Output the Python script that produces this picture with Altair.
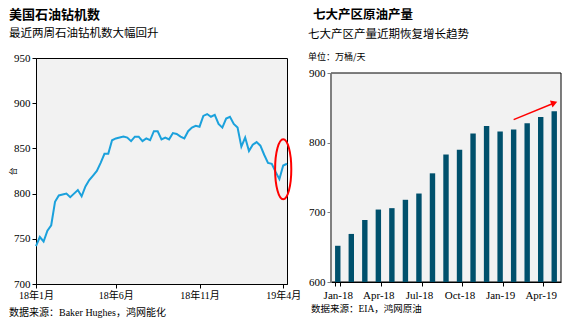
import altair as alt
import pandas as pd

CJK = "Noto Sans CJK SC"
MIX = "Liberation Serif, Noto Sans CJK SC"

# ---------------- left chart data: US oil rig count (weekly) ----------------
rig_weeks = [d.strftime("%Y-%m-%d") for d in pd.date_range("2018-01-05", periods=67, freq="7D")]
rig_counts = [742, 752, 747, 759, 765, 791, 798, 799, 800, 796, 800, 804, 797, 808, 815, 820, 825, 834, 844, 844, 859,
              861, 862, 863, 862, 858, 863, 863, 858, 861, 859, 869, 869, 860, 862, 860, 867, 866, 863, 861, 869,
              873, 875, 874, 886, 888, 885, 887, 877, 873, 883, 885,
              877, 873, 852, 862, 847, 854, 857, 853, 843, 834, 833, 824, 816, 831, 833]
rig_tick_dates = ["2018-01-05", "2018-06-01", "2018-11-02", "2019-04-05"]
rig_tick_labels = ["18年1月", "18年6月", "18年11月", "19年4月"]
rig_y_ticks = [700, 750, 800, 850, 900, 950]
ellipse_week = ["2019-04-05"]
ellipse_value = [827]

left_title = "美国石油钻机数"
left_subtitle = "最近两周石油钻机数大幅回升"
left_unit = "台"
left_source = "数据来源：Baker Hughes，鸿网能化"

# ---------------- right chart data: 7 regions crude output ----------------
prod_months = ["Jan-18", "Feb-18", "Mar-18", "Apr-18", "May-18", "Jun-18", "Jul-18", "Aug-18", "Sep-18",
               "Oct-18", "Nov-18", "Dec-18", "Jan-19", "Feb-19", "Mar-19", "Apr-19", "May-19"]
prod_values = [652, 669, 689, 704, 706, 718, 727, 756, 783, 790, 813, 824, 816, 819, 828, 837, 845]
prod_tick_months = ["Jan-18", "Apr-18", "Jul-18", "Oct-18", "Jan-19", "Apr-19"]
prod_y_ticks = [600, 700, 800, 900]
arrow_from = ["Feb-19", 833]
arrow_to = ["May-19", 857]

right_title = "七大产区原油产量"
right_subtitle = "七大产区产量近期恢复增长趋势"
right_unit = "单位：万桶/天"
right_source = "数据来源：EIA，鸿网原油"


def txt(s, x, y, size, bold=False, font=MIX):
    return alt.Chart(alt.Data(values=[{"t": s}])).mark_text(
        align="left", baseline="middle", fontSize=size,
        fontWeight="bold" if bold else "normal", font=font, color="black"
    ).encode(x=alt.value(x), y=alt.value(y), text="t:N")


# ---------------- left chart ----------------
rig_df = pd.DataFrame({"week": rig_weeks, "rigs": rig_counts})
label_expr = " : ".join(
    f"datum.value == '{d}' ? '{l}'" for d, l in zip(rig_tick_dates, rig_tick_labels)
) + " : ''"

lx = alt.X("week:O", scale=alt.Scale(type="point", padding=0),
           axis=alt.Axis(values=rig_tick_dates, labelExpr=label_expr, title=None, tickSize=4,
                         labelAngle=0, labelFontSize=10, labelFont=MIX, labelColor="black",
                         domainColor="black", tickColor="black", labelPadding=2, grid=False))
ly = alt.Y("rigs:Q", scale=alt.Scale(domain=[700, 950], nice=False, zero=False),
           axis=alt.Axis(values=rig_y_ticks, title=left_unit, titleFont=CJK, titleFontSize=8,
                         titleFontWeight="normal", titleColor="black", titleX=-19, titleY=113,
                         tickSize=4, labelFontSize=11, labelFont="Liberation Serif",
                         labelColor="black", domainColor="black", tickColor="black",
                         labelPadding=2, grid=False))

rig_line = alt.Chart(rig_df).mark_line(color="#1ba1dc", strokeWidth=2).encode(x=lx, y=ly)

ellipse_path = "M -0.27 0 A 0.27 1 0 1 0 0.27 0 A 0.27 1 0 1 0 -0.27 0 Z"
ellipse_df = pd.DataFrame({"week": ellipse_week, "rigs": ellipse_value})
ellipse = alt.Chart(ellipse_df).mark_point(
    shape=ellipse_path, size=3600, filled=False, color="#ff0000", strokeWidth=2, opacity=1
).encode(x="week:O", y="rigs:Q")

left = alt.layer(
    rig_line, ellipse,
    txt(left_title, -27, -43, 13, bold=True, font=CJK),
    txt(left_subtitle, -27, -24, 11.5, font=CJK),
    txt(left_source, -27, 255, 10),
).properties(width=251, height=226,
             view=alt.ViewBackground(fill="#f2f2f2", stroke="black", strokeWidth=1))

# ---------------- right chart ----------------
prod_df = pd.DataFrame({"month": prod_months, "output": prod_values})
xscale = alt.Scale(domain=prod_months, paddingInner=0.6, paddingOuter=0.3)
yscale = alt.Scale(domain=[600, 900], range=[224, 15], nice=False, zero=False)

rx = alt.X("month:N", scale=xscale,
           axis=alt.Axis(values=prod_tick_months, tickBand="extent", labelAngle=0, title=None,
                         tickSize=4, labelFontSize=11, labelFont="Liberation Serif",
                         labelColor="black", domainColor="black", tickColor="black",
                         labelPadding=3, grid=False))
ry = alt.Y("output:Q", scale=yscale,
           axis=alt.Axis(values=prod_y_ticks, title=None, tickSize=4, labelFontSize=11,
                         labelFont="Liberation Serif", labelColor="black",
                         domainColor="#808080", tickColor="#808080", labelPadding=2,
                         grid=False, zindex=1))

bg = alt.Chart(alt.Data(values=[{"output": prod_y_ticks[0], "hi": prod_y_ticks[-1]}])).mark_rect(
    fill="#f2f2f2", stroke="black", strokeWidth=1
).encode(x=alt.value(0), x2=alt.value(230), y=ry, y2="hi:Q")

bars = alt.Chart(prod_df).mark_bar(color="#00506c").encode(x=rx, y=ry, y2=alt.datum(600))

arrow_df = pd.DataFrame({"month": [arrow_from[0]], "month2": [arrow_to[0]],
                         "output": [arrow_from[1]], "output2": [arrow_to[1]]})
arrow_line = alt.Chart(arrow_df).mark_rule(color="#ff0000", strokeWidth=1.5).encode(
    x=rx, x2="month2:N", y=ry, y2="output2:Q")
head_df = pd.DataFrame({"month": [arrow_to[0]], "output": [arrow_to[1]]})
arrow_head = alt.Chart(head_df).mark_point(
    shape="triangle-right", angle=340, size=55, filled=True, color="#ff0000", opacity=1
).encode(x=rx, y=ry)

right = alt.layer(
    bg, bars, arrow_line, arrow_head,
    txt(right_title, -18, -43, 12.5, bold=True, font=CJK),
    txt(right_subtitle, -23, -23, 11.5, font=CJK),
    txt(right_unit, -23, -1, 9, font=CJK),
    txt(right_source, -20, 251, 9.5),
).properties(width=230, height=224,
             view=alt.ViewBackground(stroke="transparent"))

chart = alt.hconcat(left, right, spacing=44, bounds="flush").properties(
    padding={"left": 8, "top": 8, "right": 5, "bottom": 5},
    background="white",
).configure_view(strokeWidth=1)

chart.save("out.html", embed_options={"renderer": "svg", "actions": False})
